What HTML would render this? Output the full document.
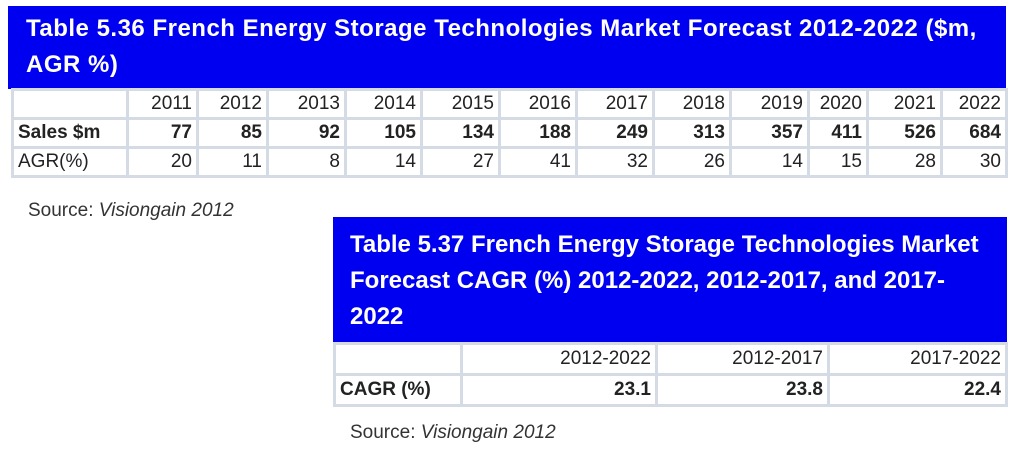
<!DOCTYPE html>
<html><head><style>
body{margin:0;width:1024px;height:456px;background:#fff;font-family:"Liberation Sans",sans-serif;position:relative;overflow:hidden}
.hd{position:absolute;background:#0000f0;color:#fff;font-weight:bold;font-size:24px;letter-spacing:0.5px;line-height:36px;box-sizing:border-box;padding-left:18px;padding-top:5px;white-space:nowrap;overflow:hidden}
table{position:absolute;border-collapse:collapse;font-size:19px;color:#222;table-layout:fixed}
td{border:3px solid #d4dbe4;text-align:right;padding:0 4px;height:26px;line-height:26px;white-space:nowrap;overflow:hidden}
td:first-child{text-align:left}
.b td{font-weight:bold}
.src{position:absolute;font-size:19px;color:#333}
</style></head><body>
<div class="hd" style="left:8px;top:6px;width:998px;height:83px">Table 5.36 French Energy Storage Technologies Market Forecast 2012-2022 ($m,<br>AGR %)</div>
<table style="left:11px;top:88px;width:994px">
<colgroup><col style="width:115px"><col style="width:70px"><col style="width:70px"><col style="width:78px"><col style="width:76px"><col style="width:78px"><col style="width:77px"><col style="width:77px"><col style="width:77px"><col style="width:78px"><col style="width:59px"><col style="width:74px"><col style="width:65px"></colgroup>
<tr><td></td><td>2011</td><td>2012</td><td>2013</td><td>2014</td><td>2015</td><td>2016</td><td>2017</td><td>2018</td><td>2019</td><td>2020</td><td>2021</td><td>2022</td></tr>
<tr class="b"><td>Sales $m</td><td>77</td><td>85</td><td>92</td><td>105</td><td>134</td><td>188</td><td>249</td><td>313</td><td>357</td><td>411</td><td>526</td><td>684</td></tr>
<tr><td>AGR(%)</td><td>20</td><td>11</td><td>8</td><td>14</td><td>27</td><td>41</td><td>32</td><td>26</td><td>14</td><td>15</td><td>28</td><td>30</td></tr>
</table>
<div class="src" style="left:28px;top:200px">Source: <i>Visiongain 2012</i></div>
<div class="hd" style="left:333px;top:217px;width:674px;height:126px;padding-left:17px;padding-top:10px;letter-spacing:0">Table 5.37 French Energy Storage Technologies Market<br>Forecast CAGR (%) 2012-2022, 2012-2017, and 2017-<br>2022</div>
<table style="left:333px;top:342px;width:672px">
<colgroup><col style="width:127px"><col style="width:195px"><col style="width:172px"><col style="width:178px"></colgroup>
<tr><td style="height:28px"></td><td>2012-2022</td><td>2012-2017</td><td>2017-2022</td></tr>
<tr class="b"><td style="height:28px">CAGR (%)</td><td>23.1</td><td>23.8</td><td>22.4</td></tr>
</table>
<div class="src" style="left:350px;top:422px">Source: <i>Visiongain 2012</i></div>
</body></html>
